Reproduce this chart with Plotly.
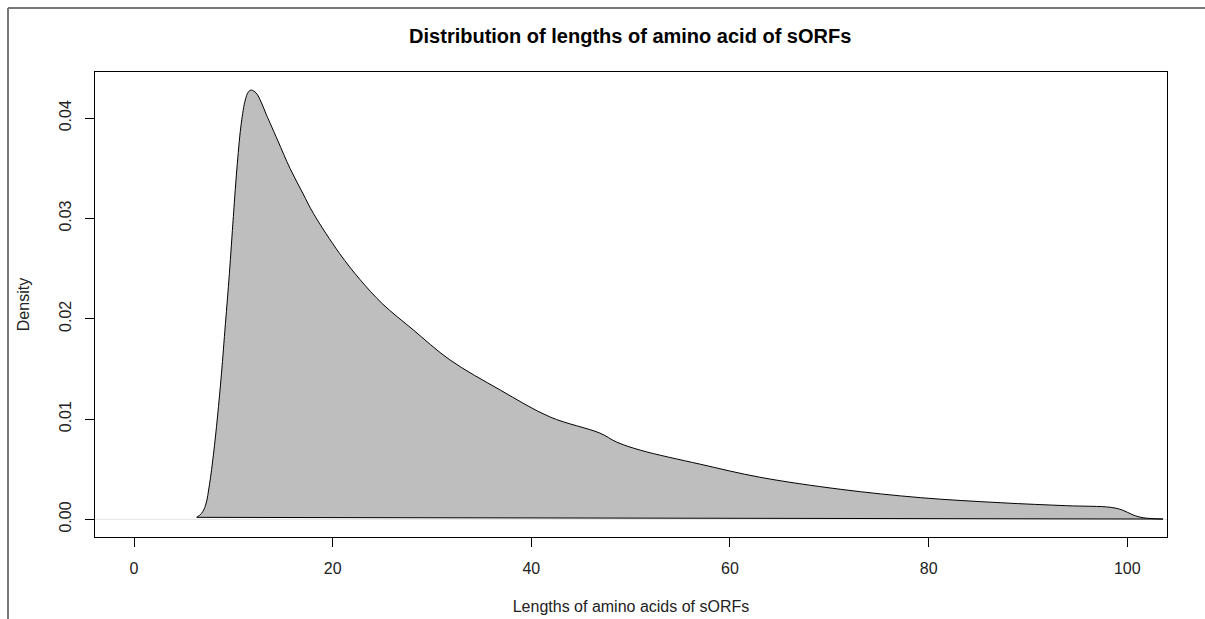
import plotly.graph_objects as go

# Density curve values
lengths = [6.31, 6.8, 7.2, 7.6, 8.0, 8.4, 8.8, 9.2, 9.6, 10.0, 10.4, 10.8, 11.2,
           11.5, 11.8, 12.3, 12.8, 13.3, 13.7, 14.5, 15.7, 17.0, 18.06, 20.7,
           22.76, 25.0, 28.1, 31.8, 36.86, 41.9, 46.9, 48.6, 50.96, 57.0, 63.0,
           71.1, 79.2, 87.2, 93.9, 98.3, 99.5, 100.6, 101.6, 103.6]
density = [0.0002, 0.0006, 0.0014, 0.0035, 0.0065, 0.0102, 0.0145, 0.0195, 0.0245,
           0.0302, 0.0355, 0.0395, 0.0418, 0.0426, 0.0428, 0.0425, 0.0416, 0.0404,
           0.0395, 0.0377, 0.0350, 0.0325, 0.0305, 0.0265, 0.0239, 0.0215, 0.0189,
           0.0159, 0.0129, 0.0102, 0.0086, 0.0077, 0.0069, 0.0055, 0.0042, 0.0030,
           0.00216, 0.00166, 0.00136, 0.0012, 0.00093, 0.00043, 0.00016, 0.00003]

x_ticks = [0, 20, 40, 60, 80, 100]
y_ticks = [0.00, 0.01, 0.02, 0.03, 0.04]
y_tick_labels = ["0.00", "0.01", "0.02", "0.03", "0.04"]

title = "Distribution of lengths of amino acid of sORFs"
x_title = "Lengths of amino acids of sORFs"
y_title = "Density"

x_range = [-3.93, 104.0]
y_range = [-0.00176, 0.0446]

fig = go.Figure()

# faint zero line
fig.add_trace(go.Scatter(x=x_range, y=[0, 0], mode="lines",
                         line=dict(color="#e6e6e6", width=1),
                         hoverinfo="skip", showlegend=False))

fig.add_trace(go.Scatter(
    x=lengths, y=density, mode="lines", fill="toself",
    fillcolor="rgb(190,190,190)",
    line=dict(color="black", width=1, shape="spline", smoothing=1),
    showlegend=False))

# closing edge of the polygon
fig.add_trace(go.Scatter(
    x=[lengths[-1], lengths[0]], y=[density[-1], density[0]], mode="lines",
    line=dict(color="black", width=1), hoverinfo="skip", showlegend=False))

font_family = "Liberation Sans, Arial, sans-serif"

fig.update_layout(
    width=1205, height=619,
    margin=dict(l=95, r=38, t=72, b=82),
    paper_bgcolor="white", plot_bgcolor="white",
    font=dict(family=font_family, size=16, color="black"),
    title=dict(text="<b>" + title + "</b>", x=0.523, xanchor="center",
               y=1 - 36 / 619, yanchor="middle",
               font=dict(size=20, family=font_family, color="black")),
    xaxis=dict(range=x_range, tickvals=x_ticks, ticks="outside", ticklen=9,
               tickcolor="black", showline=True, linecolor="black", linewidth=1,
               mirror=True, showgrid=False, zeroline=False, automargin=False,
               ticklabelstandoff=8,
               tickfont=dict(size=16, color="#222222"),
               title=dict(text=x_title, standoff=24, font=dict(size=16, color="#222222"))),
    yaxis=dict(range=y_range, tickvals=y_ticks, ticktext=y_tick_labels,
               tickangle=-90, ticks="outside", ticklen=9,
               tickcolor="black", showline=True, linecolor="black", linewidth=1,
               mirror=True, showgrid=False, zeroline=False, automargin=False,
               ticklabelstandoff=8,
               tickfont=dict(size=16, color="#222222"),
               title=dict(text=y_title, standoff=22, font=dict(size=16, color="#222222"))),
    shapes=[
        dict(type="line", xref="paper", yref="paper",
             x0=-87 / 1072, x1=1.04, y0=1 + 64 / 465, y1=1 + 64 / 465,
             line=dict(color="#777777", width=2)),
        dict(type="line", xref="paper", yref="paper",
             x0=-87 / 1072, x1=-87 / 1072, y0=1 + 64 / 465, y1=-1,
             line=dict(color="#777777", width=2)),
    ],
)

fig.write_html("out.html")
